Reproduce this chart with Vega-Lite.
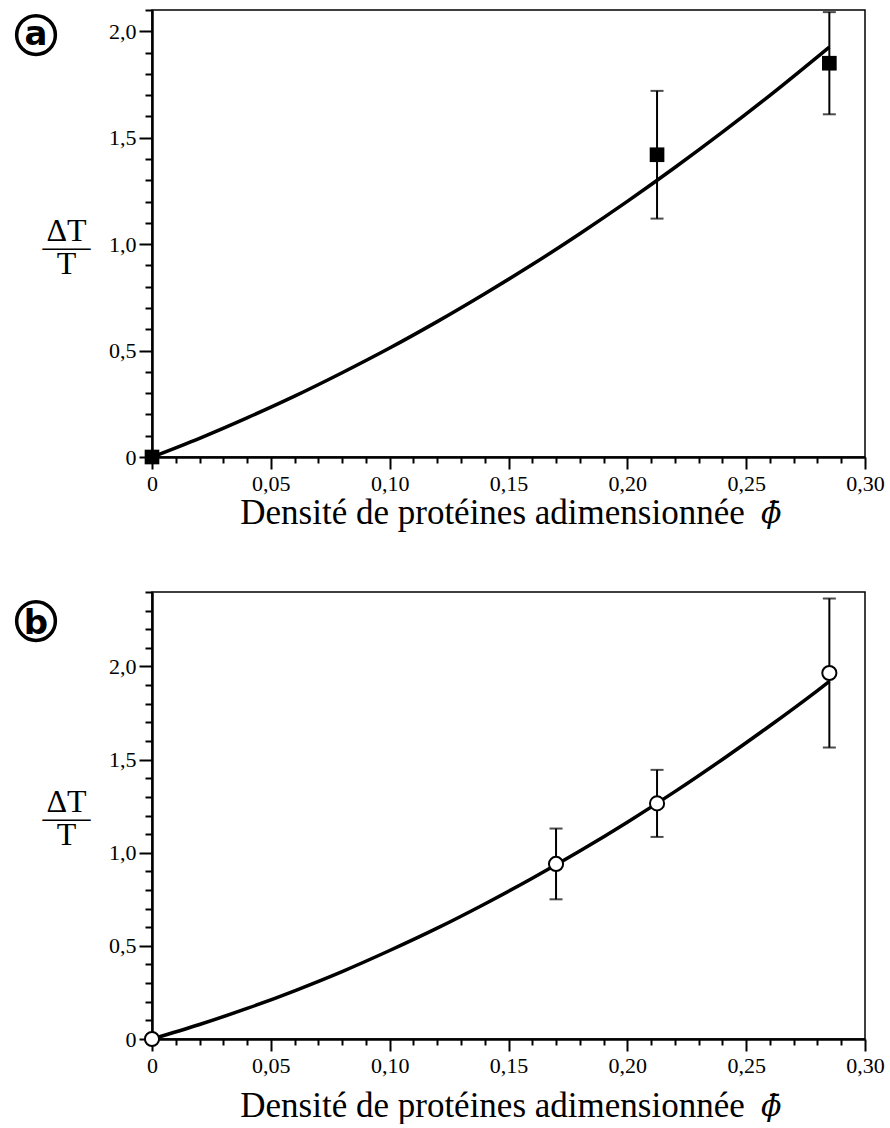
{
  "$schema": "https://vega.github.io/schema/vega-lite/v6.json",
  "background": "white",
  "padding": {"left": 8, "top": 7, "right": 10, "bottom": 0},
  "spacing": 59,
  "config": {
    "view": {"stroke": "black", "strokeWidth": 1.5},
    "axis": {
      "grid": false,
      "domainColor": "black",
      "domainWidth": 2.5,
      "tickColor": "black",
      "tickWidth": 2,
      "labelColor": "black",
      "labelFont": "Liberation Serif",
      "titleFont": "Liberation Serif",
      "titleColor": "black",
      "titleFontWeight": "normal",
      "labelOverlap": false,
      "labelFlush": false
    }
  },
  "datasets": {
    "ptsA": [
      {"phi": 0, "dt": 0},
      {"phi": 0.2125, "dt": 1.42},
      {"phi": 0.285, "dt": 1.85}
    ],
    "errA": [
      {"phi": 0.2125, "lo": 1.12, "hi": 1.72},
      {"phi": 0.285, "lo": 1.61, "hi": 2.09}
    ],
    "curveA": [
      {"phi": 0, "dt": 0},
      {"phi": 0.02, "dt": 0.088},
      {"phi": 0.04, "dt": 0.184},
      {"phi": 0.06, "dt": 0.286},
      {"phi": 0.08, "dt": 0.396},
      {"phi": 0.10, "dt": 0.512},
      {"phi": 0.12, "dt": 0.636},
      {"phi": 0.14, "dt": 0.767},
      {"phi": 0.16, "dt": 0.904},
      {"phi": 0.18, "dt": 1.049},
      {"phi": 0.20, "dt": 1.201},
      {"phi": 0.22, "dt": 1.360},
      {"phi": 0.24, "dt": 1.526},
      {"phi": 0.26, "dt": 1.699},
      {"phi": 0.28, "dt": 1.880},
      {"phi": 0.285, "dt": 1.926}
    ],
    "tagA": [{"label": "a", "phi": -0.0488, "dt": 1.9825}],
    "symA": [{"label": "ϕ̄", "phi": 0.2605, "dt": -0.31}],
    "ptsB": [
      {"phi": 0, "dt": 0},
      {"phi": 0.17, "dt": 0.94},
      {"phi": 0.2125, "dt": 1.265},
      {"phi": 0.285, "dt": 1.965}
    ],
    "errB": [
      {"phi": 0.17, "lo": 0.75, "hi": 1.13},
      {"phi": 0.2125, "lo": 1.085, "hi": 1.445},
      {"phi": 0.285, "lo": 1.565, "hi": 2.365}
    ],
    "curveB": [
      {"phi": 0, "dt": 0},
      {"phi": 0.02, "dt": 0.078},
      {"phi": 0.04, "dt": 0.164},
      {"phi": 0.06, "dt": 0.259},
      {"phi": 0.08, "dt": 0.362},
      {"phi": 0.10, "dt": 0.475},
      {"phi": 0.12, "dt": 0.595},
      {"phi": 0.14, "dt": 0.725},
      {"phi": 0.16, "dt": 0.863},
      {"phi": 0.18, "dt": 1.009},
      {"phi": 0.20, "dt": 1.164},
      {"phi": 0.22, "dt": 1.328},
      {"phi": 0.24, "dt": 1.501},
      {"phi": 0.26, "dt": 1.682},
      {"phi": 0.28, "dt": 1.871},
      {"phi": 0.285, "dt": 1.920}
    ],
    "tagB": [{"label": "b", "phi": -0.0488, "dt": 2.244}],
    "symB": [{"label": "ϕ̄", "phi": 0.2605, "dt": -0.4134}]
  },
  "vconcat": [
    {
      "width": 713,
      "height": 447,
      "encoding": {
        "x": {
          "type": "quantitative",
          "scale": {"domain": [0, 0.30], "nice": false, "zero": false},
          "axis": {
            "values": [0,0.01,0.02,0.03,0.04,0.05,0.06,0.07,0.08,0.09,0.10,0.11,0.12,0.13,0.14,0.15,0.16,0.17,0.18,0.19,0.20,0.21,0.22,0.23,0.24,0.25,0.26,0.27,0.28,0.29,0.30],
            "labelExpr": "abs(datum.value*20 - round(datum.value*20)) < 0.001 ? (datum.value == 0 ? '0' : replace(format(datum.value, '.2f'), '.', ',')) : ''",
            "tickSize": {"condition": {"test": "abs(datum.value*20 - round(datum.value*20)) < 0.001", "value": 12}, "value": 6},
            "labelFontSize": {"condition": {"test": "abs(datum.value*20 - round(datum.value*20)) < 0.001", "value": 22}, "value": 0},
            "labelPadding": 4,
            "title": "Densité de protéines adimensionnée",
            "titleFontSize": 35,
            "titleBaseline": "alphabetic",
            "titleAlign": "center",
            "titleX": 340,
            "titleY": 66
          }
        },
        "y": {
          "type": "quantitative",
          "scale": {"domain": [0, 2.1], "nice": false},
          "axis": {
            "values": [0,0.1,0.2,0.3,0.4,0.5,0.6,0.7,0.8,0.9,1.0,1.1,1.2,1.3,1.4,1.5,1.6,1.7,1.8,1.9,2.0,2.1],
            "labelExpr": "abs(datum.value*2 - round(datum.value*2)) < 0.001 ? (datum.value == 0 ? '0' : replace(format(datum.value, '.1f'), '.', ',')) : ''",
            "tickSize": {"condition": {"test": "abs(datum.value*2 - round(datum.value*2)) < 0.001", "value": 13}, "value": 7},
            "labelFontSize": {"condition": {"test": "abs(datum.value*2 - round(datum.value*2)) < 0.001", "value": 22}, "value": 0},
            "labelPadding": 3,
            "title": ["ΔT", "—–", "T"],
            "titleFontSize": 32,
            "titleAngle": 0,
            "titleAlign": "center",
            "titleBaseline": "alphabetic",
            "titleLineHeight": 16.5,
            "titleX": -86,
            "titleY": 230
          }
        }
      },
      "layer": [
        {
          "data": {"name": "curveA"},
          "mark": {"type": "line", "color": "black", "strokeWidth": 3.5, "interpolate": "monotone"},
          "encoding": {"x": {"field": "phi"}, "y": {"field": "dt"}}
        },
        {
          "data": {"name": "errA"},
          "mark": {"type": "rule", "color": "black", "strokeWidth": 2},
          "encoding": {"x": {"field": "phi"}, "y": {"field": "lo"}, "y2": {"field": "hi"}}
        },
        {
          "data": {"name": "errA"},
          "mark": {"type": "tick", "orient": "horizontal", "color": "black", "size": 13, "thickness": 2},
          "encoding": {"x": {"field": "phi"}, "y": {"field": "lo"}}
        },
        {
          "data": {"name": "errA"},
          "mark": {"type": "tick", "orient": "horizontal", "color": "black", "size": 13, "thickness": 2},
          "encoding": {"x": {"field": "phi"}, "y": {"field": "hi"}}
        },
        {
          "data": {"name": "ptsA"},
          "mark": {"type": "point", "shape": "square", "filled": true, "color": "black", "size": 215, "opacity": 1},
          "encoding": {"x": {"field": "phi"}, "y": {"field": "dt"}}
        },
        {
          "data": {"name": "tagA"},
          "mark": {"type": "point", "shape": "circle", "filled": false, "color": "black", "strokeWidth": 3.5, "size": 1500, "opacity": 1, "clip": false},
          "encoding": {"x": {"field": "phi"}, "y": {"field": "dt"}}
        },
        {
          "data": {"name": "tagA"},
          "mark": {"type": "text", "font": "DejaVu Sans", "fontWeight": "bold", "fontSize": 34, "align": "center", "baseline": "alphabetic", "dy": 9.5, "color": "black", "clip": false},
          "encoding": {"x": {"field": "phi"}, "y": {"field": "dt"}, "text": {"field": "label"}}
        },
        {
          "data": {"name": "symA"},
          "mark": {"type": "text", "font": "DejaVu Serif", "fontStyle": "italic", "fontSize": 30, "align": "center", "baseline": "alphabetic", "color": "black", "clip": false},
          "encoding": {"x": {"field": "phi"}, "y": {"field": "dt"}, "text": {"field": "label"}}
        }
      ]
    },
    {
      "width": 713,
      "height": 447,
      "encoding": {
        "x": {
          "type": "quantitative",
          "scale": {"domain": [0, 0.30], "nice": false, "zero": false},
          "axis": {
            "values": [0,0.01,0.02,0.03,0.04,0.05,0.06,0.07,0.08,0.09,0.10,0.11,0.12,0.13,0.14,0.15,0.16,0.17,0.18,0.19,0.20,0.21,0.22,0.23,0.24,0.25,0.26,0.27,0.28,0.29,0.30],
            "labelExpr": "abs(datum.value*20 - round(datum.value*20)) < 0.001 ? (datum.value == 0 ? '0' : replace(format(datum.value, '.2f'), '.', ',')) : ''",
            "tickSize": {"condition": {"test": "abs(datum.value*20 - round(datum.value*20)) < 0.001", "value": 12}, "value": 6},
            "labelFontSize": {"condition": {"test": "abs(datum.value*20 - round(datum.value*20)) < 0.001", "value": 22}, "value": 0},
            "labelPadding": 4,
            "title": "Densité de protéines adimensionnée",
            "titleFontSize": 35,
            "titleBaseline": "alphabetic",
            "titleAlign": "center",
            "titleX": 340,
            "titleY": 77
          }
        },
        "y": {
          "type": "quantitative",
          "scale": {"domain": [0, 2.4], "nice": false},
          "axis": {
            "values": [0,0.1,0.2,0.3,0.4,0.5,0.6,0.7,0.8,0.9,1.0,1.1,1.2,1.3,1.4,1.5,1.6,1.7,1.8,1.9,2.0,2.1,2.2,2.3,2.4],
            "labelExpr": "abs(datum.value*2 - round(datum.value*2)) < 0.001 ? (datum.value == 0 ? '0' : replace(format(datum.value, '.1f'), '.', ',')) : ''",
            "tickSize": {"condition": {"test": "abs(datum.value*2 - round(datum.value*2)) < 0.001", "value": 13}, "value": 7},
            "labelFontSize": {"condition": {"test": "abs(datum.value*2 - round(datum.value*2)) < 0.001", "value": 22}, "value": 0},
            "labelPadding": 3,
            "title": ["ΔT", "—–", "T"],
            "titleFontSize": 32,
            "titleAngle": 0,
            "titleAlign": "center",
            "titleBaseline": "alphabetic",
            "titleLineHeight": 16.5,
            "titleX": -86,
            "titleY": 219
          }
        }
      },
      "layer": [
        {
          "data": {"name": "curveB"},
          "mark": {"type": "line", "color": "black", "strokeWidth": 3.5, "interpolate": "monotone"},
          "encoding": {"x": {"field": "phi"}, "y": {"field": "dt"}}
        },
        {
          "data": {"name": "errB"},
          "mark": {"type": "rule", "color": "black", "strokeWidth": 2},
          "encoding": {"x": {"field": "phi"}, "y": {"field": "lo"}, "y2": {"field": "hi"}}
        },
        {
          "data": {"name": "errB"},
          "mark": {"type": "tick", "orient": "horizontal", "color": "black", "size": 13, "thickness": 2},
          "encoding": {"x": {"field": "phi"}, "y": {"field": "lo"}}
        },
        {
          "data": {"name": "errB"},
          "mark": {"type": "tick", "orient": "horizontal", "color": "black", "size": 13, "thickness": 2},
          "encoding": {"x": {"field": "phi"}, "y": {"field": "hi"}}
        },
        {
          "data": {"name": "ptsB"},
          "mark": {"type": "point", "shape": "circle", "filled": true, "fill": "white", "stroke": "black", "strokeWidth": 2, "size": 200, "opacity": 1},
          "encoding": {"x": {"field": "phi"}, "y": {"field": "dt"}}
        },
        {
          "data": {"name": "tagB"},
          "mark": {"type": "point", "shape": "circle", "filled": false, "color": "black", "strokeWidth": 3.5, "size": 1500, "opacity": 1, "clip": false},
          "encoding": {"x": {"field": "phi"}, "y": {"field": "dt"}}
        },
        {
          "data": {"name": "tagB"},
          "mark": {"type": "text", "font": "DejaVu Sans", "fontWeight": "bold", "fontSize": 34, "align": "center", "baseline": "alphabetic", "dy": 13, "color": "black", "clip": false},
          "encoding": {"x": {"field": "phi"}, "y": {"field": "dt"}, "text": {"field": "label"}}
        },
        {
          "data": {"name": "symB"},
          "mark": {"type": "text", "font": "DejaVu Serif", "fontStyle": "italic", "fontSize": 30, "align": "center", "baseline": "alphabetic", "color": "black", "clip": false},
          "encoding": {"x": {"field": "phi"}, "y": {"field": "dt"}, "text": {"field": "label"}}
        }
      ]
    }
  ]
}
